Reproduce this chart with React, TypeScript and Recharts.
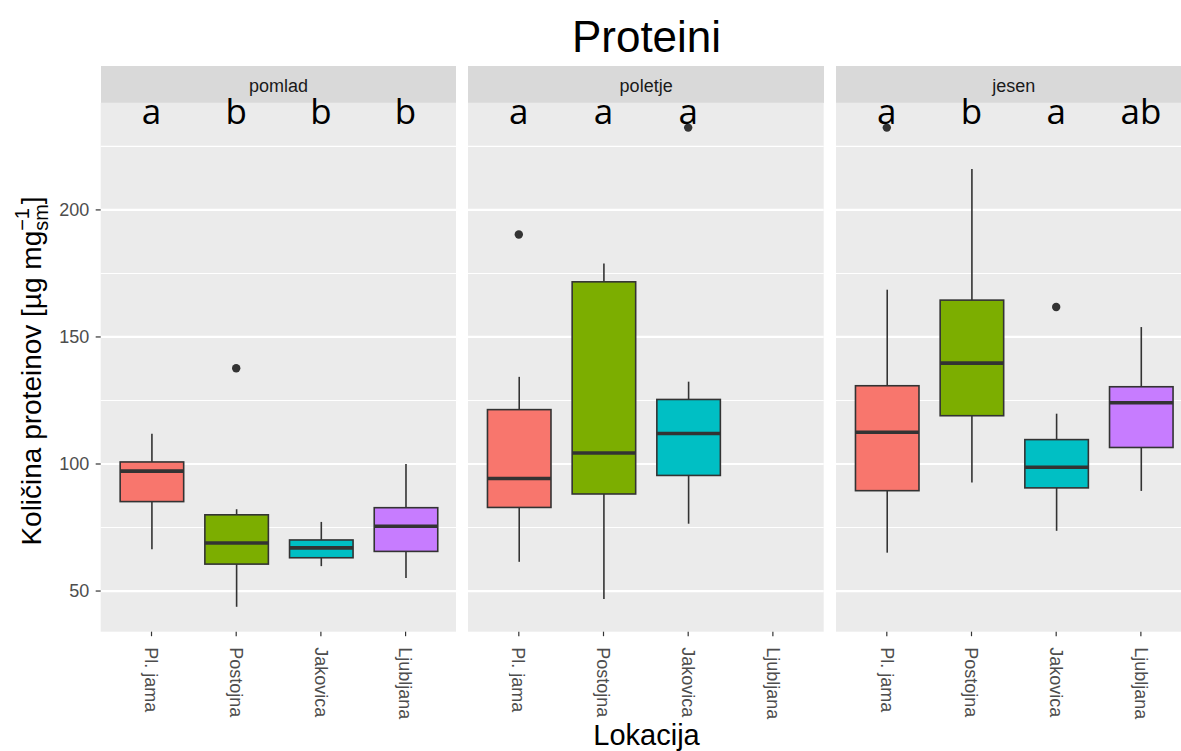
import React from "react";
import { ComposedChart, Bar, Scatter, XAxis, YAxis, CartesianGrid } from "recharts";

const LOCATIONS = ["Pl. jama", "Postojna", "Jakovica", "Ljubljana"];
const SEASONS = ["pomlad", "poletje", "jesen"];
const FILLS = ["#F8766D", "#7CAE00", "#00BFC4", "#C77CFF"];

// five-number summaries per location (low whisker, Q1, median, Q3, high whisker)
const pomladLow = [66.4, 43.8, 59.8, 55.1];
const pomladQ1 = [85.2, 60.6, 63.1, 65.6];
const pomladMed = [97.2, 68.9, 67.0, 75.5];
const pomladQ3 = [100.8, 80.0, 70.1, 82.8];
const pomladHigh = [111.9, 82.2, 77.2, 100.0];
const pomladOut = [null, 137.7, null, null];
const pomladLetters = ["a", "b", "b", "b"];

const poletjeLow = [61.5, 46.9, 76.5, null];
const poletjeQ1 = [82.9, 88.2, 95.5, null];
const poletjeMed = [94.3, 104.3, 112.0, null];
const poletjeQ3 = [121.4, 171.7, 125.4, null];
const poletjeHigh = [134.3, 178.9, 132.4, null];
const poletjeOut = [190.3, null, 232.4, null];
const poletjeLetters = ["a", "a", "a", ""];

const jesenLow = [65.1, 92.7, 73.7, 89.4];
const jesenQ1 = [89.5, 119.0, 90.6, 106.5];
const jesenMed = [112.5, 139.7, 98.7, 124.1];
const jesenQ3 = [130.8, 164.5, 109.6, 130.4];
const jesenHigh = [168.6, 216.1, 119.8, 153.9];
const jesenOut = [232.4, null, 161.8, null];
const jesenLetters = ["a", "b", "a", "ab"];

const LETTER_Y = 234;
const Y_DOMAIN: [number, number] = [34, 242.2];
const MAJOR = [50, 100, 150, 200];
const MINOR = [75, 125, 175, 225];

const FONT = '"Liberation Sans", Arial, sans-serif';
const PANEL_LEFTS = [100.7, 468.3, 836];
const PANEL_W = 355.7;
const PANEL_H = 529;
const STRIP_TOP = 66;
const STRIP_H = 36.7;
const X_AXIS_H = 118;
const UNIT = PANEL_W / 4.2;
const PAD = UNIT * 0.1;

function buildRows(
  low: (number | null)[],
  q1: (number | null)[],
  med: (number | null)[],
  q3: (number | null)[],
  high: (number | null)[],
  out: (number | null)[],
  letters: string[]
) {
  return LOCATIONS.map((loc, i) => ({
    loc,
    idx: i,
    box: low[i] == null ? null : [low[i], high[i]],
    low: low[i],
    q1: q1[i],
    med: med[i],
    q3: q3[i],
    high: high[i],
    out: out[i],
    letter: letters[i],
    letterY: letters[i] ? LETTER_Y : null,
  }));
}

const seasonRows = [
  buildRows(pomladLow, pomladQ1, pomladMed, pomladQ3, pomladHigh, pomladOut, pomladLetters),
  buildRows(poletjeLow, poletjeQ1, poletjeMed, poletjeQ3, poletjeHigh, poletjeOut, poletjeLetters),
  buildRows(jesenLow, jesenQ1, jesenMed, jesenQ3, jesenHigh, jesenOut, jesenLetters),
];

function BoxShape(props: any) {
  const { x, y, width, height, payload } = props;
  if (!payload || payload.box == null || isNaN(y) || isNaN(height)) return <g />;
  const top = Math.min(y, y + height);
  const h = Math.abs(height);
  const { low, high, q1, med, q3 } = payload;
  // the bar spans low..high, so every other level sits on the same linear scale
  const py = (v: number) => top + (h * (high - v)) / (high - low);
  const cx = x + width / 2;
  return (
    <g>
      <line x1={cx} x2={cx} y1={py(high)} y2={py(q3)} stroke="#333333" strokeWidth={1.6} />
      <line x1={cx} x2={cx} y1={py(q1)} y2={py(low)} stroke="#333333" strokeWidth={1.6} />
      <rect
        x={x}
        y={py(q3)}
        width={width}
        height={py(q1) - py(q3)}
        fill={FILLS[payload.idx]}
        stroke="#333333"
        strokeWidth={1.6}
      />
      <line x1={x} x2={x + width} y1={py(med)} y2={py(med)} stroke="#333333" strokeWidth={3.6} />
    </g>
  );
}

function OutlierDot(props: any) {
  const { cx, cy, payload } = props;
  if (!payload || payload.out == null || cx == null || cy == null || isNaN(cy)) return <g />;
  return <circle cx={cx} cy={cy} r={4.2} fill="#333333" />;
}

function LetterMark(props: any) {
  const { cx, cy, payload } = props;
  if (!payload || !payload.letter || cx == null || cy == null || isNaN(cy)) return <g />;
  return (
    <text x={cx} y={cy} textAnchor="middle" fontFamily='"Open Sans", sans-serif' fontSize={35} fill="#000000">
      {payload.letter}
    </text>
  );
}

function XTick(props: any) {
  const { x, y, payload } = props;
  return (
    <text
      transform={`translate(${x},${y}) rotate(90)`}
      x={9}
      y={0}
      dy="0.35em"
      textAnchor="start"
      fontFamily={FONT}
      fontSize={18}
      fill="#4D4D4D"
    >
      {payload.value}
    </text>
  );
}

function YTitle() {
  return (
    <text
      transform={`translate(41, ${371 - STRIP_TOP}) rotate(-90)`}
      textAnchor="middle"
      fontFamily={FONT}
      fontSize={28}
      fill="#000000"
    >
      {"Količina proteinov [µg mg"}
      <tspan fontSize={20} dy={7}>sm</tspan>
      <tspan fontSize={20} dx={-26.7} dy={-19}>−1</tspan>
      <tspan dx={3.9} dy={12}>]</tspan>
    </text>
  );
}

function Panel({ index }: { index: number }) {
  const first = index === 0;
  const yW = first ? PANEL_LEFTS[0] : 0;
  const left = PANEL_LEFTS[index] - yW;
  return (
    <>
      <div
        style={{
          position: "absolute",
          left: PANEL_LEFTS[index],
          top: STRIP_TOP,
          width: PANEL_W,
          height: STRIP_H,
          background: "#D9D9D9",
          color: "#1A1A1A",
          fontFamily: FONT,
          fontSize: 18,
          lineHeight: `${STRIP_H}px`,
          textAlign: "center",
          paddingTop: 2,
          boxSizing: "border-box",
        }}
      >
        {SEASONS[index]}
      </div>
      <div style={{ position: "absolute", left, top: STRIP_TOP }}>
        <ComposedChart
          width={yW + PANEL_W}
          height={STRIP_H + PANEL_H + X_AXIS_H}
          data={seasonRows[index]}
          margin={{ top: STRIP_H, right: 0, bottom: 0, left: 0 }}
        >
          <CartesianGrid
            vertical={false}
            horizontalValues={MINOR}
            stroke="#FFFFFF"
            strokeWidth={1.1}
            fill="#EBEBEB"
            fillOpacity={1}
          />
          <CartesianGrid vertical={false} horizontalValues={MAJOR} stroke="#FFFFFF" strokeWidth={2.2} />
          <XAxis
            dataKey="loc"
            type="category"
            allowDuplicatedCategory={false}
            interval={0}
            padding={{ left: PAD, right: PAD }}
            axisLine={false}
            tickLine={{ stroke: "#333333", strokeWidth: 1.2 }}
            tickSize={4.5}
            height={X_AXIS_H}
            tick={<XTick />}
          />
          <YAxis
            type="number"
            domain={Y_DOMAIN}
            ticks={MAJOR}
            hide={!first}
            width={yW}
            axisLine={false}
            tickLine={{ stroke: "#333333", strokeWidth: 1.2 }}
            tickSize={5}
            tickMargin={6.5}
            tick={{ fill: "#4D4D4D", fontSize: 18, fontFamily: FONT }}
            label={first ? <YTitle /> : undefined}
          />
          <Bar dataKey="box" barSize={UNIT * 0.75} shape={<BoxShape />} isAnimationActive={false} />
          <Scatter dataKey="out" shape={<OutlierDot />} isAnimationActive={false} />
          <Scatter dataKey="letterY" shape={<LetterMark />} isAnimationActive={false} />
        </ComposedChart>
      </div>
    </>
  );
}

export default function App() {
  return (
    <div
      style={{
        position: "relative",
        width: 1181,
        height: 751,
        overflow: "hidden",
        background: "#FFFFFF",
      }}
    >
      <style>{"body{margin:0}"}</style>
      {SEASONS.map((s, i) => (
        <Panel key={s} index={i} />
      ))}
      <svg
        width={1181}
        height={751}
        style={{ position: "absolute", left: 0, top: 0, pointerEvents: "none" }}
      >
        <text x={646.5} y={51.7} textAnchor="middle" fontFamily={FONT} fontSize={44} fill="#000000">
          Proteini
        </text>
        <text x={646.5} y={745} textAnchor="middle" fontFamily={FONT} fontSize={29} fill="#000000">
          Lokacija
        </text>
      </svg>
    </div>
  );
}
